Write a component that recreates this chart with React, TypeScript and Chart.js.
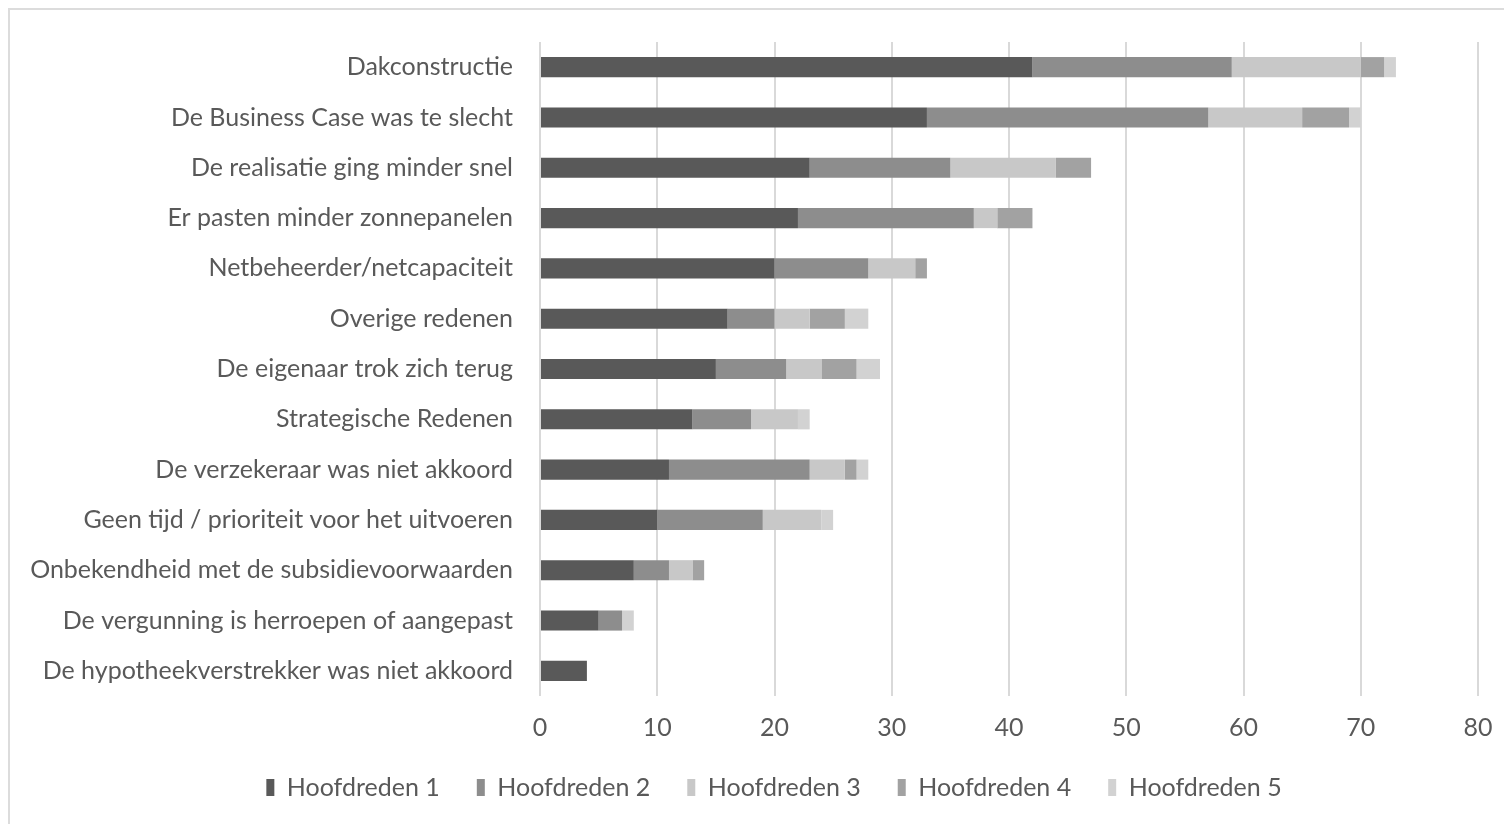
import React, { useEffect, useRef } from "react";
import { Chart, registerables } from "chart.js";

Chart.register(...registerables);

const categories = [
  "Dakconstructie",
  "De Business Case was te slecht",
  "De realisatie ging minder snel",
  "Er pasten minder zonnepanelen",
  "Netbeheerder/netcapaciteit",
  "Overige redenen",
  "De eigenaar trok zich terug",
  "Strategische Redenen",
  "De verzekeraar was niet akkoord",
  "Geen tijd / prioriteit voor het uitvoeren",
  "Onbekendheid met de subsidievoorwaarden",
  "De vergunning is herroepen of aangepast",
  "De hypotheekverstrekker was niet akkoord",
];

const seriesNames = ["Hoofdreden 1", "Hoofdreden 2", "Hoofdreden 3", "Hoofdreden 4", "Hoofdreden 5"];

const hoofdreden1 = [42, 33, 23, 22, 20, 16, 15, 13, 11, 10, 8, 5, 4];
const hoofdreden2 = [17, 24, 12, 15, 8, 4, 6, 5, 12, 9, 3, 2, 0];
const hoofdreden3 = [11, 8, 9, 2, 4, 3, 3, 4, 3, 5, 2, 0, 0];
const hoofdreden4 = [2, 4, 3, 3, 1, 3, 3, 0, 1, 0, 1, 0, 0];
const hoofdreden5 = [1, 1, 0, 0, 0, 2, 2, 1, 1, 1, 0, 1, 0];

const xTicks = [0, 10, 20, 30, 40, 50, 60, 70, 80];

const colors = ["#595959", "#8d8d8d", "#c8c8c8", "#a2a2a2", "#d2d2d2"];

const legendShift = {
  id: "legendShift",
  afterLayout(chart: any) {
    const lg = chart.legend;
    if (lg) {
      lg.left += 35;
      lg.right += 35;
    }
  },
};

export default function App() {
  const canvasRef = useRef<HTMLCanvasElement | null>(null);

  useEffect(() => {
    if (!canvasRef.current) return;
    const font = { family: "Lato", size: 25 };
    const allSeries = [hoofdreden1, hoofdreden2, hoofdreden3, hoofdreden4, hoofdreden5];
    const chart = new Chart(canvasRef.current, {
      type: "bar",
      data: {
        labels: categories,
        datasets: allSeries.map((d, i) => ({
          label: seriesNames[i],
          data: d,
          backgroundColor: colors[i],
          borderWidth: 0,
          categoryPercentage: 0.8,
          barPercentage: 0.5,
        })),
      },
      options: {
        indexAxis: "y",
        animation: false,
        responsive: false,
        maintainAspectRatio: false,
        layout: { padding: { top: 40, right: 26, left: 0, bottom: 14 } },
        scales: {
          x: {
            stacked: true,
            min: 0,
            max: 80,
            afterBuildTicks: (scale: any) => {
              scale.ticks = xTicks.map((v) => ({ value: v }));
            },
            afterFit: (scale: any) => {
              scale.height = 42;
              scale.paddingRight = 0;
              scale.paddingLeft = 0;
            },
            grid: { color: "#d9d9d9", lineWidth: 2, drawTicks: false },
            border: { display: false },
            ticks: { color: "#595959", font, padding: 17 },
          },
          y: {
            stacked: true,
            afterFit: (scale: any) => {
              scale.width = 540;
            },
            grid: { display: false, drawTicks: false },
            border: { display: false },
            ticks: { color: "#595959", font, padding: 27, autoSkip: false },
          },
        },
        plugins: {
          legend: {
            position: "bottom",
            labels: {
              color: "#595959",
              font,
              boxWidth: 8,
              boxHeight: 17,
              padding: 37,
            },
          },
          tooltip: { enabled: false },
          title: { display: false },
        },
      },
      plugins: [legendShift],
    });
    return () => chart.destroy();
  }, []);

  return (
    <div style={{ position: "fixed", left: 0, top: 0, width: 1504, height: 824, overflow: "hidden", background: "#ffffff" }}>
      <div
        style={{
          position: "absolute",
          left: 8,
          top: 8,
          width: 1560,
          height: 900,
          border: "2px solid #dcdcdc",
          boxSizing: "border-box",
        }}
      />
      <canvas ref={canvasRef} width={1504} height={824} style={{ position: "absolute", left: 0, top: 0, width: 1504, height: 824 }} />
    </div>
  );
}
